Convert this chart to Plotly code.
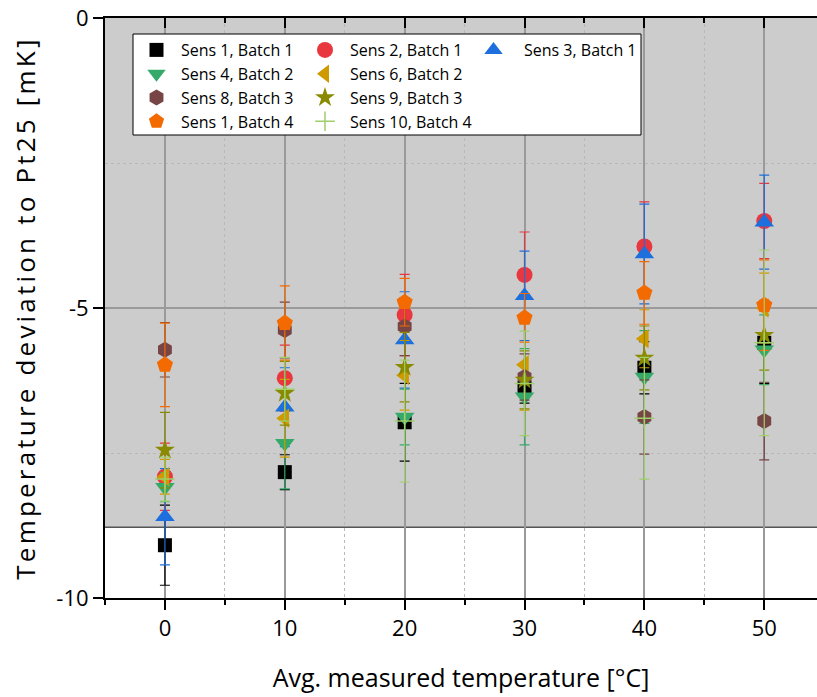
import plotly.graph_objects as go

# ---------------- data ----------------
temps = [0, 10, 20, 30, 40, 50]

names = ["Sens 1, Batch 1", "Sens 2, Batch 1", "Sens 3, Batch 1",
         "Sens 4, Batch 2", "Sens 6, Batch 2", "Sens 8, Batch 3",
         "Sens 9, Batch 3", "Sens 1, Batch 4", "Sens 10, Batch 4"]

s1b1 = [-9.09, -7.83, -6.97, -6.38, -6.03, -5.60]
s1b1_err = [0.69, 0.30, 0.67, 0.26, 0.45, 0.70]
s2b1 = [-7.91, -6.21, -5.12, -4.43, -3.94, -3.50]
s2b1_err = [0.58, 0.57, 0.70, 0.74, 0.77, 0.65]
s3b1 = [-8.60, -6.71, -5.55, -4.79, -4.07, -3.52]
s3b1_err = [0.83, 0.68, 0.83, 0.77, 0.86, 0.81]
s4b2 = [-8.09, -7.33, -6.88, -6.53, -6.19, -5.72]
s4b2_err = [0.25, 0.79, 0.48, 0.83, 0.80, 0.60]
s6b2 = [-7.91, -6.90, -6.16, -5.98, -5.53, -5.00]
s6b2_err = [0.30, 0.67, 0.60, 0.78, 0.50, 0.60]
s8b3 = [-5.72, -5.38, -5.32, -6.19, -6.88, -6.95]
s8b3_err = [0.47, 0.48, 0.50, 0.40, 0.64, 0.67]
s9b3 = [-7.45, -6.47, -6.02, -6.24, -5.86, -5.47]
s9b3_err = [0.65, 0.55, 0.60, 0.50, 0.55, 0.60]
s1b4 = [-5.98, -5.26, -4.90, -5.17, -4.74, -4.95]
s1b4_err = [0.72, 0.64, 0.41, 0.42, 0.54, 0.78]
s10b4 = [-7.95, -6.40, -6.95, -6.30, -6.90, -5.60]
s10b4_err = [0.38, 0.55, 1.05, 0.90, 1.05, 1.60]

shade_low = -8.78  # lower bound of grey band

series = [s1b1, s2b1, s3b1, s4b2, s6b2, s8b3, s9b3, s1b4, s10b4]
errors = [s1b1_err, s2b1_err, s3b1_err, s4b2_err, s6b2_err, s8b3_err,
          s9b3_err, s1b4_err, s10b4_err]

# ---------------- styles ----------------
colors = ["#000000", "#e8373e", "#1c6fdc", "#35a96a", "#cf9a00",
          "#774545", "#8a8a00", "#f26a00", "#9fd06a"]
symbols = ["square", "circle", "triangle-up", "triangle-down", "triangle-left",
           "hexagon", "star", "pentagon", "cross-thin"]
sizes = [14, 16, 17, 17, 17, 16, 15, 17, 14]
legend_ids = ["legend", "legend2", "legend3", "legend", "legend2",
              "legend", "legend2", "legend", "legend2"]

fig = go.Figure()
for i in range(len(names)):
    marker = dict(symbol=symbols[i], size=sizes[i], color=colors[i])
    if symbols[i] == "cross-thin":
        marker["line"] = dict(color=colors[i], width=1.5)
    fig.add_trace(go.Scatter(
        x=temps, y=series[i], mode="markers", name=names[i],
        marker=marker,
        error_y=dict(type="data", array=errors[i], visible=True,
                     color=colors[i], thickness=1.2, width=5),
        legend=legend_ids[i],
    ))

# dummy trace on top x axis to show inward ticks
fig.add_trace(go.Scatter(x=[None], y=[None], xaxis="x2", showlegend=False))

px_l, px_r, px_t, px_b = 105, 817, 18, 598
W, H = 817, 697

def pxx(p):
    return (p - px_l) / (px_r - px_l)

def pxy(p):
    return (px_b - p) / (px_b - px_t)

font = "Open Sans"
leg_font = dict(size=16, family=font)

fig.update_layout(
    width=W, height=H,
    margin=dict(l=px_l, r=W - px_r, t=px_t, b=H - px_b),
    paper_bgcolor="white", plot_bgcolor="white",
    font=dict(family=font, color="#000"),
    xaxis=dict(range=[-5, 54.4], tickvals=temps, ticks="outside", ticklen=10,
               tickwidth=2, tickcolor="#000", showline=True, linecolor="#000",
               linewidth=2, showgrid=True, gridcolor="#9a9a9a", gridwidth=1.5,
               zeroline=False, tickfont=dict(size=22, family=font),
               title=dict(text="Avg. measured temperature [°C]",
                          font=dict(size=25, family=font), standoff=28),
               minor=dict(dtick=5, tick0=5, ticks="outside", ticklen=5,
                          tickwidth=2, tickcolor="#000", showgrid=True,
                          gridcolor="#b8b8b8", griddash="dot", gridwidth=1)),
    xaxis2=dict(overlaying="x", matches="x", side="top", tickvals=temps,
                ticks="inside", ticklen=10, tickwidth=2, tickcolor="#000",
                showticklabels=False, showline=True, linecolor="#000",
                linewidth=2, showgrid=False, zeroline=False,
                minor=dict(dtick=5, tick0=5, ticks="inside", ticklen=5,
                           tickwidth=2, tickcolor="#000", showgrid=False)),
    yaxis=dict(range=[-10, 0], tickvals=[0, -5, -10],
               ticktext=["0", "-5", "-10"], ticks="outside", ticklen=10,
               tickwidth=2, tickcolor="#000", showline=True, linecolor="#000",
               linewidth=2, showgrid=True, gridcolor="#9a9a9a", gridwidth=1.5,
               zeroline=False, tickfont=dict(size=22, family=font),
               title=dict(text='<span style="letter-spacing:3.2px">Temperature deviation to Pt25 [mK]</span>',
                          font=dict(size=26, family=font), standoff=13),
               minor=dict(dtick=2.5, tick0=0, ticks="", showgrid=True,
                          gridcolor="#b8b8b8", griddash="dot", gridwidth=1)),
    shapes=[
        dict(type="rect", xref="paper", yref="y", x0=0, x1=1, y0=shade_low,
             y1=0, fillcolor="#cccccc", line=dict(width=0), layer="below"),
        dict(type="line", xref="paper", yref="y", x0=0, x1=1, y0=shade_low,
             y1=shade_low, line=dict(color="#555555", width=1.5), layer="below"),
        dict(type="rect", xref="paper", yref="paper", x0=pxx(133), x1=pxx(641),
             y0=pxy(135), y1=pxy(34), fillcolor="white",
             line=dict(color="#000", width=1), layer="above"),
    ],
    legend=dict(x=pxx(132), y=pxy(33), xanchor="left", yanchor="top",
                bgcolor="rgba(0,0,0,0)", borderwidth=0, tracegroupgap=0,
                font=leg_font, itemwidth=39),
    legend2=dict(x=pxx(300), y=pxy(33), xanchor="left", yanchor="top",
                 bgcolor="rgba(0,0,0,0)", borderwidth=0, tracegroupgap=0,
                 font=leg_font, itemwidth=40),
    legend3=dict(x=pxx(463), y=pxy(33), xanchor="left", yanchor="top",
                 bgcolor="rgba(0,0,0,0)", borderwidth=0, tracegroupgap=0,
                 font=leg_font, itemwidth=51),
)

fig.write_html("out.html")
